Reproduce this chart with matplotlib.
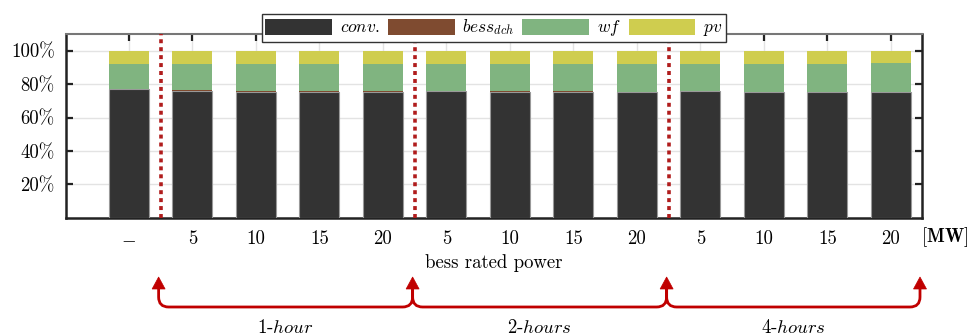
import numpy as np
import matplotlib
matplotlib.use("Agg")
import matplotlib.pyplot as plt
from matplotlib.path import Path
from matplotlib.patches import PathPatch, Polygon

plt.rcParams['font.family'] = 'serif'
plt.rcParams['font.serif'] = ['cmr10']
plt.rcParams['mathtext.fontset'] = 'cm'
plt.rcParams['axes.unicode_minus'] = False
plt.rcParams['axes.formatter.use_mathtext'] = True

# energy share per case (percent of total generation)
tick_labels = ['$-$', '5', '10', '15', '20', '5', '10', '15', '20', '5', '10', '15', '20']
conv = [77.3, 76.1, 75.5, 75.5, 75.5, 75.9, 75.5, 75.3, 75.1, 75.7, 75.3, 75.1, 75.1]
bess_dch = [0.0, 0.1, 0.2, 0.2, 0.2, 0.1, 0.2, 0.3, 0.3, 0.1, 0.2, 0.3, 0.3]
wf = [14.7, 15.9, 16.5, 16.5, 16.5, 16.2, 16.5, 16.6, 16.8, 16.4, 16.7, 16.8, 17.2]
pv = [8.0, 7.9, 7.8, 7.8, 7.8, 7.8, 7.8, 7.8, 7.8, 7.8, 7.8, 7.8, 7.4]
durations = ['1-hour', '2-hours', '4-hours']
separators = [0.5, 4.5, 8.5]

colors = {'conv': '#333333', 'bess': '#7f4b30', 'wf': '#80b480', 'pv': '#cfcd4f'}
red = '#c00000'

W, H, DPI = 976, 336, 100
fig = plt.figure(figsize=(W / DPI, H / DPI), dpi=DPI)
ax = fig.add_axes([66 / W, 1 - 217.7 / H, (922 - 66) / W, (217.7 - 34) / H])

x = np.arange(len(conv))
bw = 0.63
edge = dict(edgecolor='#999999', linewidth=0.8, zorder=3)
b1 = ax.bar(x, conv, bw, color=colors['conv'], label=r'$conv.$', **edge)
bottom = np.array(conv)
b2 = ax.bar(x, bess_dch, bw, bottom=bottom, color=colors['bess'], label=r'$bess_{dch}$',
            edgecolor='none', zorder=3)
bottom = bottom + np.array(bess_dch)
b3 = ax.bar(x, wf, bw, bottom=bottom, color=colors['wf'], label=r'$wf$',
            edgecolor='none', zorder=3)
bottom = bottom + np.array(wf)
b4 = ax.bar(x, pv, bw, bottom=bottom, color=colors['pv'], label=r'$pv$',
            edgecolor='none', zorder=3)

for s in separators:
    ax.axvline(s, color='#b01c1c', linestyle=(0, (1.1, 1.1)), linewidth=2.6, zorder=4)

ax.set_xlim(-0.99, 12.49)
ax.set_ylim(0, 110)
ax.set_yticks([20, 40, 60, 80, 100])
ax.set_yticklabels(['20%', '40%', '60%', '80%', '100%'], fontsize=13.5)
ax.set_xticks(x)
ax.set_xticklabels(tick_labels, fontsize=13.5)
ax.tick_params(axis='both', direction='in', length=5, width=1.6, color='#222222',
               top=True, right=True, pad=8)
ax.tick_params(axis='x', pad=9)
ax.grid(True, color='#e3e3e3', linewidth=1.0, zorder=0)
ax.set_axisbelow(True)
for side in ['left', 'right', 'bottom']:
    ax.spines[side].set_linewidth(1.8)
    ax.spines[side].set_color('#222222')
ax.spines['top'].set_linewidth(1.5)
ax.spines['top'].set_color('#777777')

ax.set_xlabel('bess rated power', fontsize=13.5, labelpad=4)
fig.text(921 / W, 1 - 237 / H, r'$\mathbf{[MW]}$', fontsize=13.5, ha='left', va='center')

leg = fig.legend(handles=[b1, b2, b3, b4], loc='center', ncol=4,
                 bbox_to_anchor=(ax.get_position().x0 + ax.get_position().width / 2, 1 - 28 / H),
                 fontsize=12.5, handlelength=3.85, handleheight=1.05, handletextpad=0.45,
                 columnspacing=0.45, borderpad=0.2, fancybox=False, framealpha=1,
                 edgecolor='#333333', borderaxespad=0)
leg.get_frame().set_linewidth(1.0)
for h in leg.legend_handles:
    h.set_edgecolor('none')

# duration brackets below the axis, in pixel units
fig.canvas.draw()
arrow_x = [ax.transData.transform((v, 0))[0] - 2 for v in separators + [ax.get_xlim()[1]]]
y_h = H - 307
y_tip = H - 277
head_h, head_w = 12, 6.5
r = 10
to_in = fig.dpi_scale_trans
verts, codes = [], []
for xa, xb in zip(arrow_x[:-1], arrow_x[1:]):
    verts += [(xa, y_tip - head_h + 1), (xa, y_h + r), (xa, y_h), (xa + r, y_h),
              (xb - r, y_h), (xb, y_h), (xb, y_h + r), (xb, y_tip - head_h + 1)]
    codes += [Path.MOVETO, Path.LINETO, Path.CURVE3, Path.CURVE3,
              Path.LINETO, Path.CURVE3, Path.CURVE3, Path.LINETO]
verts = [(vx / DPI, vy / DPI) for vx, vy in verts]
fig.patches.append(PathPatch(Path(verts, codes), facecolor='none', edgecolor=red,
                             linewidth=2.0, transform=to_in, figure=fig))
for xa in arrow_x:
    tri = [(xa / DPI, y_tip / DPI), ((xa - head_w) / DPI, (y_tip - head_h) / DPI),
           ((xa + head_w) / DPI, (y_tip - head_h) / DPI)]
    fig.patches.append(Polygon(tri, closed=True, facecolor=red, edgecolor=red,
                               linewidth=0.5, transform=to_in, figure=fig))
for label, xa, xb in zip(durations, arrow_x[:-1], arrow_x[1:]):
    num, word = label.split('-')
    fig.text((xa + xb) / 2 / W, 1 - 328 / H, r'$\mathit{' + num + r'}$-$' + word + '$',
             fontsize=13.5, ha='center', va='center')

fig.savefig('out.png', dpi=DPI)
